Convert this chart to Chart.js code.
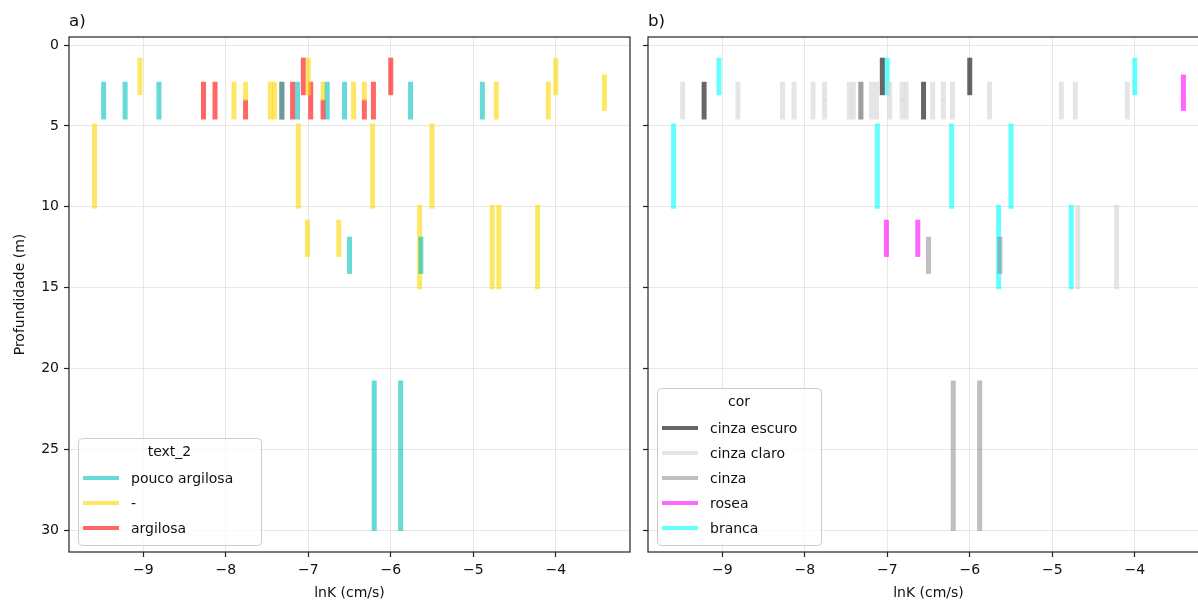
<!DOCTYPE html>
<html>
<head>
<meta charset="utf-8">
<script src="https://cdn.jsdelivr.net/npm/chart.js@4.4.1/dist/chart.umd.min.js"></script>
<style>
  html, body { margin: 0; padding: 0; background: #fff; overflow: hidden; width: 1198px; height: 604px; }
  #wrapA { position: absolute; left: 0; top: 0; }
  #wrapB { position: absolute; left: 640px; top: 0; }
</style>
</head>
<body>
<div id="wrapA"><canvas id="chartA" width="640" height="604"></canvas></div>
<div id="wrapB"><canvas id="chartB" width="580" height="604"></canvas></div>
<script>
// one entry per measured interval
const lnK = [
  -9.48, -9.22, -9.04, -8.81, -8.27, -8.13, -7.90, -7.76, -7.76, -7.46,
  -7.41, -7.32, -7.32, -7.19, -7.13, -7.06, -7.00, -6.97, -6.82, -6.82,
  -6.77, -6.56, -6.45, -6.32, -6.32, -6.21, -6.00, -5.76, -4.89, -4.72,
  -4.09, -4.00, -3.41, -9.59, -7.12, -6.22, -5.50, -7.01, -6.63, -6.50,
  -5.65, -5.635, -4.77, -4.69, -4.22, -6.20, -5.88
];
const depthTop = [
  2.27, 2.27, 0.78, 2.27, 2.27, 2.27, 2.27, 2.27, 3.37, 2.27,
  2.27, 2.27, 2.27, 2.27, 2.27, 0.78, 0.78, 2.27, 2.27, 3.37,
  2.27, 2.27, 2.27, 2.27, 3.37, 2.27, 0.78, 2.27, 2.27, 2.27,
  2.27, 0.78, 1.82, 4.85, 4.85, 4.85, 4.85, 10.8, 10.8, 11.85,
  9.88, 11.85, 9.88, 9.88, 9.88, 20.75, 20.75
];
const depthBottom = [
  4.6, 4.6, 3.1, 4.6, 4.6, 4.6, 4.6, 3.45, 4.6, 4.6,
  4.6, 4.6, 4.6, 4.6, 4.6, 3.1, 3.1, 4.6, 3.45, 4.6,
  4.6, 4.6, 4.6, 3.45, 4.6, 4.6, 3.1, 4.6, 4.6, 4.6,
  4.6, 3.1, 4.07, 10.12, 10.12, 10.12, 10.12, 13.1, 13.1, 14.15,
  15.1, 14.15, 15.1, 15.1, 15.1, 30.05, 30.05
];
const text2 = [
  'pouco argilosa', 'pouco argilosa', '-', 'pouco argilosa', 'argilosa', 'argilosa', '-', '-', 'argilosa', '-',
  '-', 'pouco argilosa', 'argilosa', 'argilosa', 'pouco argilosa', 'argilosa', '-', 'argilosa', '-', 'argilosa',
  'pouco argilosa', 'pouco argilosa', '-', '-', 'argilosa', 'argilosa', 'argilosa', 'pouco argilosa', 'pouco argilosa', '-',
  '-', '-', '-', '-', '-', '-', '-', '-', '-', 'pouco argilosa',
  '-', 'pouco argilosa', '-', '-', '-', 'pouco argilosa', 'pouco argilosa'
];
const cor = [
  'cinza claro', 'cinza escuro', 'branca', 'cinza claro', 'cinza claro', 'cinza claro', 'cinza claro', 'cinza claro', 'cinza claro', 'cinza claro',
  'cinza claro', 'cinza', 'cinza', 'cinza claro', 'cinza claro', 'cinza escuro', 'branca', 'cinza claro', 'cinza claro', 'cinza claro',
  'cinza claro', 'cinza escuro', 'cinza claro', 'cinza claro', 'cinza claro', 'cinza claro', 'cinza escuro', 'cinza claro', 'cinza claro', 'cinza claro',
  'cinza claro', 'branca', 'rosea', 'branca', 'branca', 'branca', 'branca', 'rosea', 'rosea', 'cinza',
  'branca', 'cinza', 'branca', 'cinza claro', 'cinza claro', 'cinza', 'cinza'
];
const text2Classes = ['pouco argilosa', '-', 'argilosa'];
const corClasses = ['cinza escuro', 'cinza claro', 'cinza', 'rosea', 'branca'];
const xTicks = [-9, -8, -7, -6, -5, -4];
const yTicks = [0, 5, 10, 15, 20, 25, 30];

const text2Colors = {
  'pouco argilosa': 'rgba(0,191,191,0.6)',
  '-': 'rgba(255,215,0,0.6)',
  'argilosa': 'rgba(255,0,0,0.6)'
};
const corColors = {
  'cinza escuro': 'rgba(0,0,0,0.6)',
  'cinza claro': 'rgba(211,211,211,0.6)',
  'cinza': 'rgba(128,128,128,0.5)',
  'rosea': 'rgba(255,0,255,0.6)',
  'branca': 'rgba(0,255,255,0.6)'
};

Chart.defaults.font.family = "'DejaVu Sans', sans-serif";
Chart.defaults.font.size = 14;
Chart.defaults.color = '#111';

const gridColor = 'rgba(176,176,176,0.3)';

function minusLabel(v) {
  return v < 0 ? '\u2212' + Math.abs(v) : String(v);
}

// axes box (all four spines)
const frame = {
  id: 'frame',
  afterDatasetsDraw(chart) {
    const { ctx, chartArea: a } = chart;
    ctx.save();
    ctx.strokeStyle = '#222';
    ctx.lineWidth = 1.2;
    ctx.strokeRect(a.left, a.top, a.right - a.left, a.bottom - a.top);
    ctx.restore();
  }
};

const panelLabel = {
  id: 'panelLabel',
  afterDraw(chart, args, opts) {
    const { ctx, chartArea: a } = chart;
    ctx.save();
    ctx.font = "16.7px 'DejaVu Sans', sans-serif";
    ctx.fillStyle = '#111';
    ctx.textAlign = 'left';
    ctx.textBaseline = 'alphabetic';
    ctx.fillText(opts.text, a.left, 25.5);
    ctx.restore();
  }
};

// matplotlib-like legend box in the lower left corner
const boxLegend = {
  id: 'boxLegend',
  afterDraw(chart, args, opts) {
    const { ctx, chartArea: a } = chart;
    const h = 14 + 26 + (opts.classes.length - 1) * 25 + 17;
    const x = a.left + 9;
    const y = a.bottom - 7 - h;
    ctx.save();
    ctx.beginPath();
    ctx.roundRect(x + 0.5, y + 0.5, opts.width, h, 4);
    ctx.fillStyle = 'rgba(255,255,255,0.8)';
    ctx.fill();
    ctx.strokeStyle = '#cccccc';
    ctx.lineWidth = 1;
    ctx.stroke();
    ctx.font = "14px 'DejaVu Sans', sans-serif";
    ctx.fillStyle = '#111';
    ctx.textBaseline = 'middle';
    ctx.textAlign = 'center';
    ctx.fillText(opts.title, x + opts.width / 2, y + 14);
    ctx.textAlign = 'left';
    opts.classes.forEach((cls, i) => {
      const cy = y + 40 + i * 25;
      ctx.beginPath();
      ctx.moveTo(x + 5, cy);
      ctx.lineTo(x + 41, cy);
      ctx.strokeStyle = opts.colors[cls];
      ctx.lineWidth = 4;
      ctx.stroke();
      ctx.fillStyle = '#111';
      ctx.fillText(cls, x + 53, cy + 1);
    });
    ctx.restore();
  }
};

function makeDatasets(cats, classes, colors) {
  return classes.map(cls => ({
    label: cls,
    data: lnK
      .map((x, i) => (cats[i] === cls ? { x: x, y: [depthTop[i], depthBottom[i]] } : null))
      .filter(d => d),
    backgroundColor: colors[cls],
    borderWidth: 0,
    barThickness: 5,
    inflateAmount: 0,
    grouped: false
  }));
}

function makeChart(id, cats, classes, colors, cfg) {
  return new Chart(document.getElementById(id), {
    type: 'bar',
    data: { datasets: makeDatasets(cats, classes, colors) },
    options: {
      responsive: false,
      animation: false,
      events: [],
      layout: { padding: { top: 37, right: cfg.padRight, left: 0, bottom: 0 } },
      scales: {
        x: {
          type: 'linear',
          min: -9.9,
          max: -3.1,
          offset: false,
          grid: { offset: false, color: gridColor, lineWidth: 1, tickLength: 5, tickColor: '#222', tickWidth: 1.2 },
          border: { display: false },
          ticks: { padding: 5, maxRotation: 0, callback: minusLabel },
          afterBuildTicks: s => { s.ticks = xTicks.map(v => ({ value: v })); },
          afterFit: s => { s.height = 52; },
          title: { display: true, text: 'lnK (cm/s)', padding: { top: 0, bottom: 2 } }
        },
        y: {
          type: 'linear',
          reverse: true,
          min: -0.5,
          max: 31.35,
          grid: { color: gridColor, lineWidth: 1, tickLength: 5, tickColor: '#222', tickWidth: 1.2 },
          border: { display: false },
          ticks: { padding: 5, display: cfg.showY, callback: minusLabel },
          afterBuildTicks: s => { s.ticks = yTicks.map(v => ({ value: v })); },
          afterFit: s => { s.width = cfg.yWidth; },
          title: { display: cfg.showY, text: 'Profundidade (m)', padding: { top: 12, bottom: 0 } }
        }
      },
      plugins: {
        legend: { display: false },
        tooltip: { enabled: false },
        panelLabel: { text: cfg.label },
        boxLegend: { title: cfg.legendTitle, classes: classes, colors: colors, width: cfg.legendWidth }
      }
    },
    plugins: [frame, panelLabel, boxLegend]
  });
}

makeChart('chartA', text2, text2Classes, text2Colors, {
  padRight: 10, yWidth: 69, showY: true, label: 'a)', legendTitle: 'text_2', legendWidth: 183
});
makeChart('chartB', cor, corClasses, corColors, {
  padRight: 11, yWidth: 8, showY: false, label: 'b)', legendTitle: 'cor', legendWidth: 164
});
</script>
</body>
</html>
